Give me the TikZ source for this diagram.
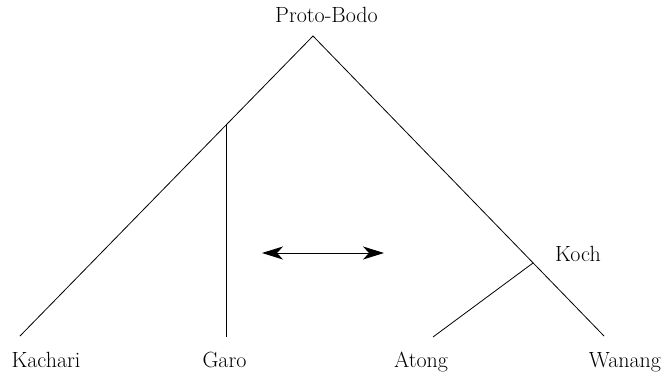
\documentclass[tikz,border=0pt]{standalone}
\usepackage{fontspec}
\usetikzlibrary{arrows.meta}
\begin{document}
\begin{tikzpicture}[x=1pt,y=-1pt,
  lab/.style={anchor=base,inner sep=0pt,font=\fontsize{22}{26}\selectfont},
  branch/.style={line width=0.8pt},
  dbl/.style={line width=0.9pt,{Stealth[length=21pt,width=13pt,inset=6pt]}-{Stealth[length=21pt,width=13pt,inset=6pt]}}]
\useasboundingbox (0,0) rectangle (668,375);
% labels
\node[lab] (pb) at (326.5,22) {Proto-Bodo};
\node[lab] (kach) at (46,367) {Kachari};
\node[lab] (garo) at (224.5,367) {Garo};
\node[lab] (atong) at (421,367) {Atong};
\node[lab] (wanang) at (625,367) {Wanang};
\node[lab,anchor=base west] (koch) at (555,261) {Koch};
% tree points
\coordinate (apex) at (313,36);
\coordinate (kachEnd) at (20,336);
\coordinate (wanEnd) at (604,336);
\coordinate (garoTop) at (226.5,124);
\coordinate (garoEnd) at (226.5,337);
\coordinate (kochJ) at (533,263);
\coordinate (atEnd) at (433,337);
\coordinate (arL) at (262,253);
\coordinate (arR) at (384,253);
% branches
\draw[branch] (kachEnd) -- (apex) -- (wanEnd);
\draw[branch] (garoTop) -- (garoEnd);
\draw[branch] (kochJ) -- (atEnd);
% double arrow
\draw[dbl] (arL) -- (arR);
\end{tikzpicture}
\end{document}
